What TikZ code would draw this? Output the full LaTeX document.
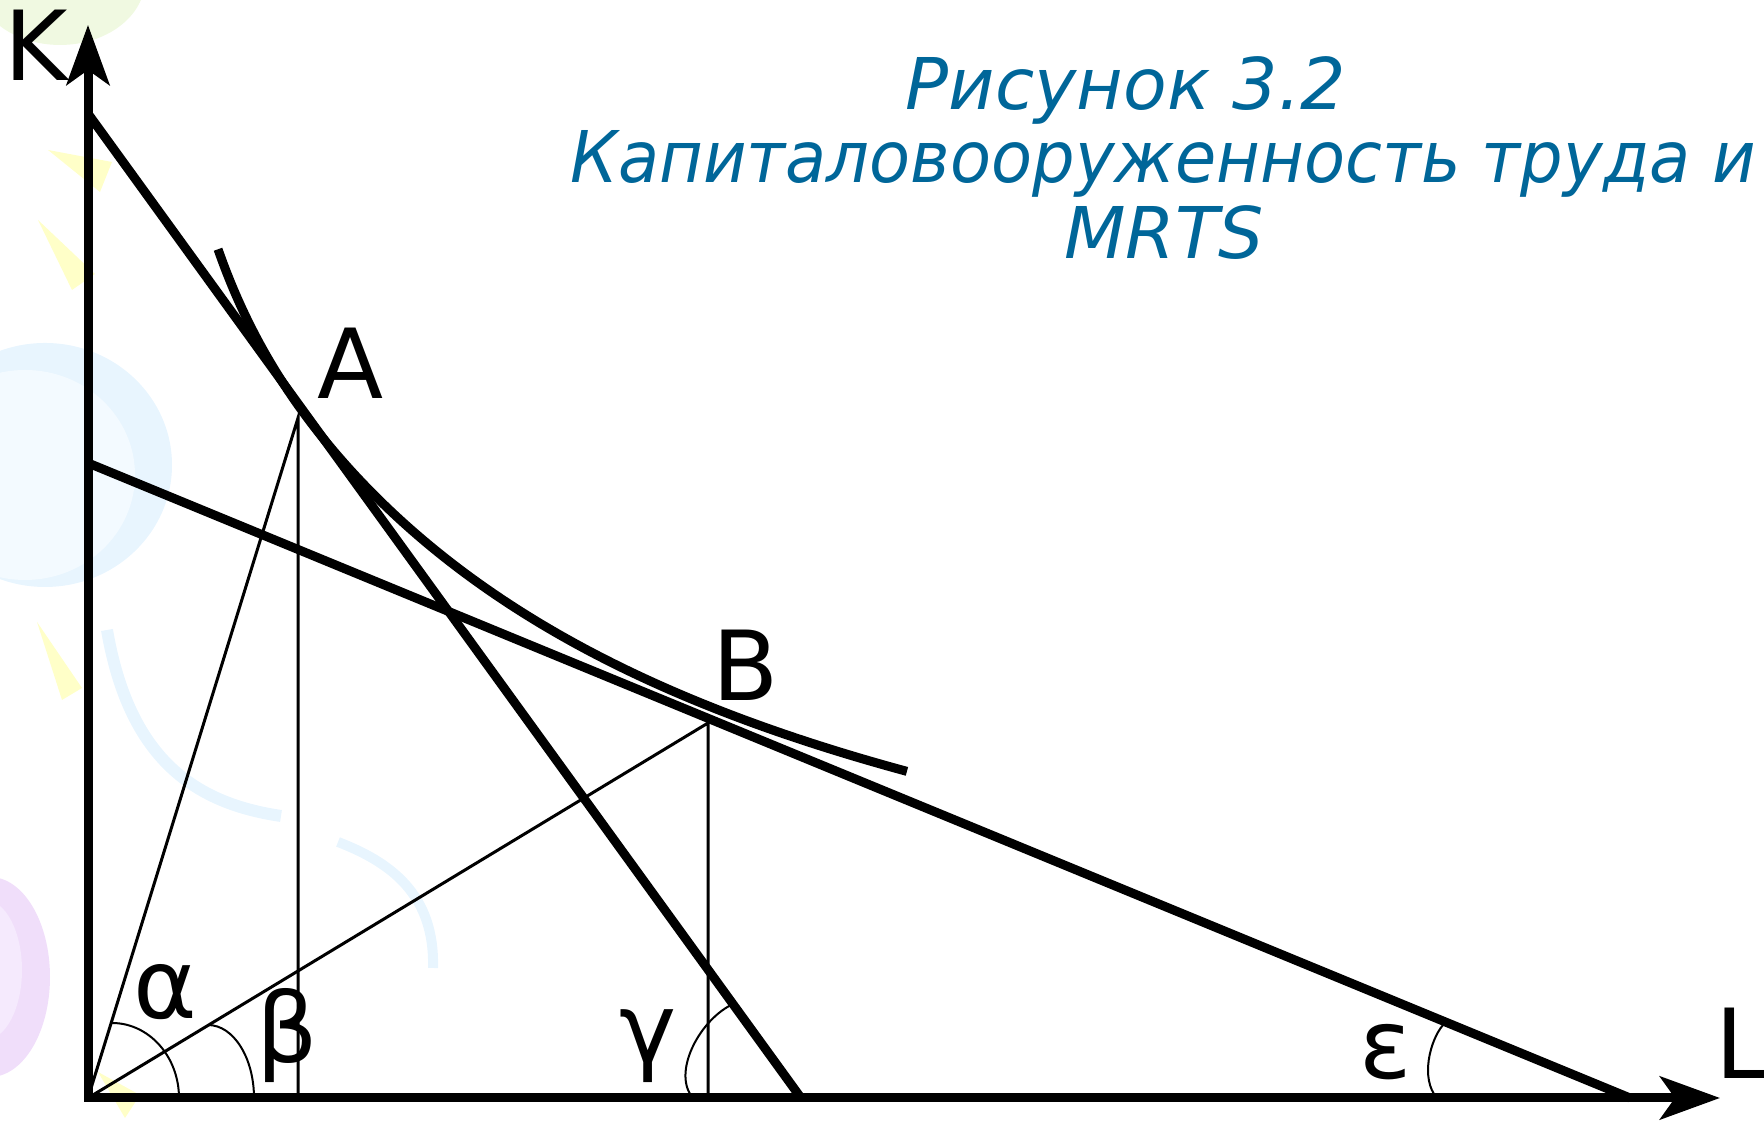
\documentclass[tikz,border=0pt]{standalone}
\usepackage{fontspec}
\setmainfont{DejaVu Sans}
\usetikzlibrary{arrows.meta}
\definecolor{titleblue}{RGB}{0,102,153}
\definecolor{bggreen}{RGB}{240,249,225}
\definecolor{bgyellow}{RGB}{255,255,200}
\definecolor{bgblueA}{RGB}{232,245,254}
\definecolor{bgblueB}{RGB}{243,250,255}
\definecolor{bgpurpleA}{RGB}{240,222,250}
\definecolor{bgpurpleB}{RGB}{245,234,253}
\begin{document}
\begin{tikzpicture}[
  thickline/.style={line width=0.09cm},
  thinline/.style={line width=0.03cm},
  arcline/.style={line width=0.02cm},
  axistip/.tip={Stealth[length=0.6cm,width=0.43cm,inset=0.15cm]},
  lbl/.style={inner sep=0pt, font=\fontsize{27.5}{33}\selectfont},
  ttl/.style={inner sep=0pt, anchor=base, text=titleblue, font=\fontsize{20.3}{24}\selectfont\itshape},
]
\useasboundingbox (0,0) rectangle (17.64,11.24);
% faint background decorations
\begin{scope}
\clip (0,0) rectangle (17.64,11.24);
\fill[bggreen] (0.60,11.44) ellipse[x radius=0.85, y radius=0.65];
\fill[bgblueA] (0.45,6.59) ellipse[x radius=1.27, y radius=1.22];
\fill[bgblueB] (0.25,6.49) ellipse[x radius=1.10, y radius=1.05];
\draw[bgblueA, line width=0.12cm] (1.07,4.94) .. controls (1.30,3.60) and (2.00,3.20) .. (2.81,3.08);
\draw[bgblueA, line width=0.10cm] (3.38,2.82) .. controls (3.90,2.62) and (4.35,2.30) .. (4.33,1.56);
\fill[bgpurpleA] (-0.10,1.47) ellipse[x radius=0.60, y radius=1.00];
\fill[bgpurpleB] (-0.15,1.54) ellipse[x radius=0.37, y radius=0.70];
\fill[bgyellow] (0.48,9.74) -- (1.12,9.62) -- (1.00,9.32) -- cycle;
\fill[bgyellow] (0.38,9.04) -- (0.95,8.50) -- (0.72,8.34) -- cycle;
\fill[bgyellow] (0.37,5.02) -- (0.82,4.36) -- (0.62,4.24) -- cycle;
\fill[bgyellow] (0.98,0.52) -- (1.40,0.29) -- (1.25,0.06) -- cycle;
\end{scope}
% coordinates
\coordinate (O) at (0.88,0.26);
\coordinate (Ktip) at (0.88,10.99);
\coordinate (Ltip) at (17.20,0.26);
\coordinate (S1) at (0.89,10.09);
\coordinate (S2) at (8.01,0.26);
\coordinate (F1) at (0.88,6.61);
\coordinate (F2) at (16.30,0.26);
\coordinate (A) at (2.98,7.06);
\coordinate (B) at (7.08,4.01);
\coordinate (Afoot) at (2.98,0.26);
\coordinate (Bfoot) at (7.08,0.26);
% thin construction lines
\draw[thinline] (O) -- (A) -- (Afoot);
\draw[thinline] (O) -- (B) -- (Bfoot);
% angle arcs
\draw[arcline] (1.12,1.01) arc[start angle=90, end angle=0, x radius=0.67, y radius=0.75];
\draw[arcline] (2.08,0.99) arc[start angle=90, end angle=0, x radius=0.46, y radius=0.73];
\draw[arcline] (7.31,1.19) .. controls (6.98,1.02) and (6.72,0.50) .. (6.93,0.26);
\draw[arcline] (14.43,0.99) .. controls (14.30,0.84) and (14.20,0.45) .. (14.37,0.26);
% axes
\draw[thickline, axistip-axistip] (Ktip) -- (O) -- (Ltip);
% budget lines
\draw[thickline] (S1) -- (S2);
\draw[thickline] (F1) -- (F2);
% isoquant
\draw[thickline] plot[domain=2.18:9.07, samples=120, smooth]
  (\x, {0.5+33.8/(\x+2.10)+0.35*exp(-(\x-2.18)/0.35)});
% labels
\node[lbl] (Klbl) at (0.36,10.79) {K};
\node[lbl] (Llbl) at (17.42,0.81) {L};
\node[lbl] (Albl) at (3.51,7.61) {A};
\node[lbl] (Blbl) at (7.46,4.59) {B};
\node[lbl] (alpha) at (1.65,1.32) {α};
\node[lbl] (beta) at (2.87,0.88) {β};
\node[lbl] (gamma) at (6.48,0.78) {γ};
\node[lbl] (eps) at (13.86,0.72) {ε};
% title
\node[ttl] (t1) at (11.26,10.14) {Рисунок 3.2};
\node[ttl] (t2) at (11.63,9.41) {\scalebox{0.94}[1]{Капиталовооруженность труда и}};
\node[ttl] (t3) at (11.64,8.65) {MRTS};
\end{tikzpicture}
\end{document}
